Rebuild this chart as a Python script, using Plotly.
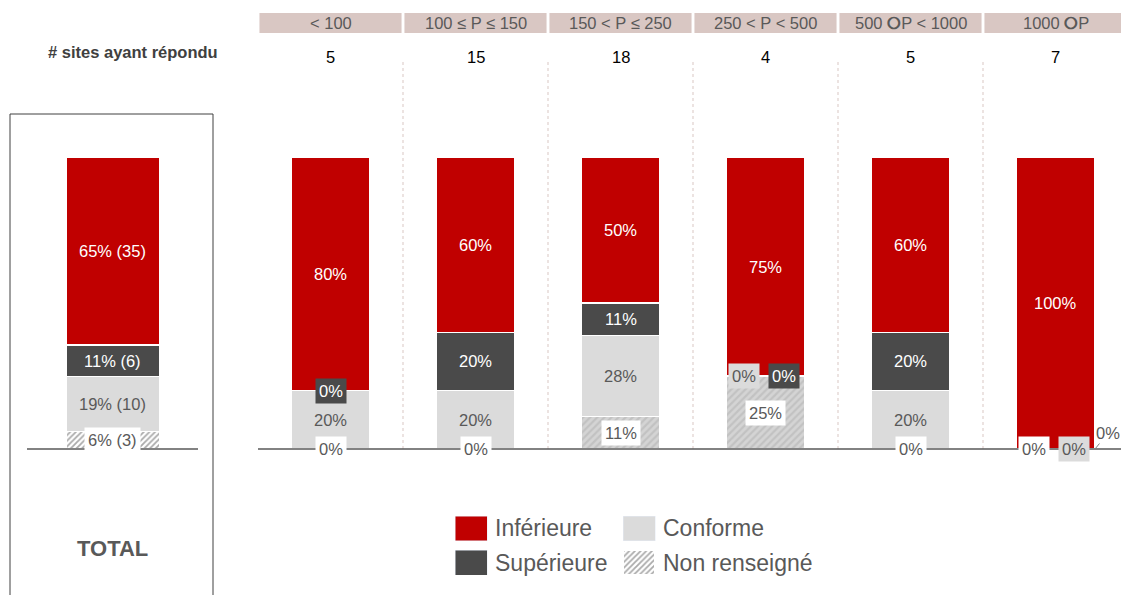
import plotly.graph_objects as go

# ---------------- data ----------------
categories = ["< 100", "100 ≤ P ≤ 150", "150 < P ≤ 250", "250 < P < 500", "500 <b>⭘</b>P < 1000", "1000 <b>⭘</b>P"]
n_sites = [5, 15, 18, 4, 5, 7]
inferieure = [80, 60, 50, 75, 60, 100]
superieure = [0, 20, 11, 0, 20, 0]
conforme = [20, 20, 28, 0, 20, 0]
non_renseigne = [0, 0, 11, 25, 0, 0]

total_label = "TOTAL"
total_pct = [6, 19, 11, 65]        # Non renseigné, Conforme, Supérieure, Inférieure
total_count = [3, 10, 6, 35]

series_names = ["Non renseigné", "Conforme", "Supérieure", "Inférieure"]
legend_order = ["Inférieure", "Supérieure", "Conforme", "Non renseigné"]

# ---------------- styles ----------------
W, H = 1121, 595
def px(p): return p / W
def py(p): return 1 - p / H

RED, DARK, LIGHT, GRAY = "#c00000", "#4a4a4a", "#dbdbdb", "#595959"
COL = {"Inférieure": RED, "Supérieure": DARK, "Conforme": LIGHT, "Non renseigné": "#cfcfcf"}
FONT = "Liberation Sans, Arial, sans-serif"
NARROW = "Liberation Sans Narrow, Liberation Sans, Arial, sans-serif"
BAR_W = 0.545

def marker_for(name, variant="cat"):
    line = dict(color="white", width=1.2)
    if name == "Non renseigné":
        if variant == "cat":
            pat = dict(shape="/", fgcolor="#b0b0b0", bgcolor="#d4d4d4", size=5, solidity=0.45)
        else:
            pat = dict(shape="/", fgcolor="#555555", bgcolor="#ffffff", size=4, solidity=0.45)
        return dict(color="#d6d6d6", pattern=pat, line=line)
    return dict(color=COL[name], line=line)

series_vals = dict(zip(series_names, [non_renseigne, conforme, superieure, inferieure]))

fig = go.Figure()
x_idx = list(range(len(categories)))

# main stacked bars
for name in series_names:
    fig.add_bar(x=x_idx, y=series_vals[name], name=name, width=BAR_W,
                marker=marker_for(name, "cat"), xaxis="x", yaxis="y",
                showlegend=False, hoverinfo="skip")

# total bar (normalised to 100)
tot_sum = sum(total_pct)
total_norm = [v / tot_sum * 100 for v in total_pct]
for k, name in enumerate(series_names):
    fig.add_bar(x=[0], y=[total_norm[k]], name=name, width=BAR_W,
                marker=marker_for(name, "tot"), xaxis="x2", yaxis="y",
                showlegend=False, hoverinfo="skip")

# legend swatches (own small subplot)
SW_H = 25 / 34.5
for j, name in enumerate(legend_order):
    col, row = j // 2, j % 2
    fig.add_bar(x=[col], y=[SW_H], base=[-row - SW_H / 2], width=32 / 168,
                marker=marker_for(name, "tot") if name == "Non renseigné" else dict(color=COL[name]),
                xaxis="x3", yaxis="y3", showlegend=False, hoverinfo="skip")
    fig.add_annotation(x=col + 22 / 168, y=-row, xref="x3", yref="y3", text=name,
                       showarrow=False, xanchor="left", yanchor="middle",
                       font=dict(family=FONT, size=23, color=GRAY))

# ---------------- labels ----------------
def label(xref, x, y, text, name, zero=False, xshift=0):
    fc = "white" if name in ("Inférieure", "Supérieure") else GRAY
    bg = None
    if name == "Non renseigné":
        bg = "white"
    elif zero:
        bg = COL[name]
    kw = dict(bgcolor=bg, borderpad=3) if bg else {}
    fig.add_annotation(x=x, y=y, xref=xref, yref="y", text=text, showarrow=False,
                       xanchor="center", yanchor="middle",
                       xshift=xshift, font=dict(family=FONT, size=16.5, color=fc), **kw)

for i in x_idx:
    base = 0
    zeros_at = {}
    for name in series_names:
        v = series_vals[name][i]
        if v == 0:
            zeros_at.setdefault(base, []).append(name)
        else:
            label("x", i, base + v / 2, f"{v}%", name)
        base += v
    for pos, names in zeros_at.items():
        shifts = [0] if len(names) == 1 else [-22, 18]
        for k, name in enumerate(names):
            if k < 2:
                label("x", i, pos, "0%", name, zero=True, xshift=shifts[k])
            else:
                fig.add_annotation(x=i + BAR_W / 2, y=pos, xref="x", yref="y", text="0%",
                                   showarrow=True, arrowhead=0, arrowwidth=1, arrowcolor="#7f7f7f",
                                   ax=13, ay=-16, standoff=0,
                                   font=dict(family=FONT, size=16.5, color=GRAY))

base = 0
for k, name in enumerate(series_names):
    h = total_norm[k]
    label("x2", 0, base + h / 2, f"{total_pct[k]}% ({total_count[k]})", name)
    base += h

# ---------------- header / decorations ----------------
shapes = []
for i in x_idx:
    shapes.append(dict(type="rect", xref="x", yref="paper", x0=i - 0.5 + 0.01, x1=i + 0.5 - 0.01,
                       y0=py(33), y1=py(13), fillcolor="#d9c7c3", line=dict(width=0), layer="below"))
    fig.add_annotation(x=i, y=py(23), xref="x", yref="paper", text=categories[i], showarrow=False,
                       xanchor="center", yanchor="middle",
                       font=dict(family=FONT, size=16.5, color=GRAY))
    fig.add_annotation(x=i, y=py(57), xref="x", yref="paper", text=str(n_sites[i]), showarrow=False,
                       xanchor="center", yanchor="middle",
                       font=dict(family=NARROW, size=16.5, color="#000000"))
for i in x_idx[:-1]:
    shapes.append(dict(type="line", xref="x", yref="paper", x0=i + 0.5, x1=i + 0.5,
                       y0=py(62), y1=py(449), line=dict(color="#d9c7c3", width=1, dash="dot"), layer="below"))
shapes.append(dict(type="line", xref="paper", yref="y", x0=px(258), x1=1, y0=0, y1=0,
                   line=dict(color=GRAY, width=1.5)))
shapes.append(dict(type="line", xref="paper", yref="y", x0=px(27), x1=px(198), y0=0, y1=0,
                   line=dict(color=GRAY, width=1.5)))
shapes.append(dict(type="rect", xref="paper", yref="paper", x0=px(10), x1=px(213), y0=py(610), y1=py(114),
                   line=dict(color="#404040", width=1), fillcolor="rgba(0,0,0,0)", layer="below"))

fig.add_annotation(x=px(220), y=py(52), xref="paper", yref="paper", text="<b># sites ayant répondu</b>",
                   showarrow=False, xanchor="right", yanchor="middle",
                   font=dict(family=FONT, size=16.5, color="#404040"))
fig.add_annotation(x=px(112), y=py(548), xref="paper", yref="paper", text="<b>" + total_label + "</b>",
                   showarrow=False, xanchor="center", yanchor="middle",
                   font=dict(family=FONT, size=22, color=GRAY))

hidden = dict(visible=False, showgrid=False, zeroline=False, fixedrange=True)
fig.update_layout(
    width=W, height=H, autosize=False,
    margin=dict(l=0, r=0, t=0, b=0, pad=0),
    paper_bgcolor="white", plot_bgcolor="rgba(0,0,0,0)",
    barmode="stack", showlegend=False,
    shapes=shapes,
    xaxis=dict(domain=[px(258), 1], range=[-0.5, 5.5 - 7 / 145], anchor="y", **hidden),
    xaxis2=dict(domain=[px(27), px(198)], range=[-0.5, 0.5], anchor="y", **hidden),
    yaxis=dict(domain=[0, 1], range=[-50, 153.77], anchor="x", **hidden),
    xaxis3=dict(domain=[px(455), px(830)], range=[-16 / 168, (375 - 16) / 168], anchor="y3", **hidden),
    yaxis3=dict(domain=[py(575), py(516)], range=[-1 - SW_H / 2, SW_H / 2], anchor="x3", **hidden),
)

fig.write_html("out.html", config={"displayModeBar": False},
               post_script="document.body.style.margin='0';document.body.style.padding='0';")
